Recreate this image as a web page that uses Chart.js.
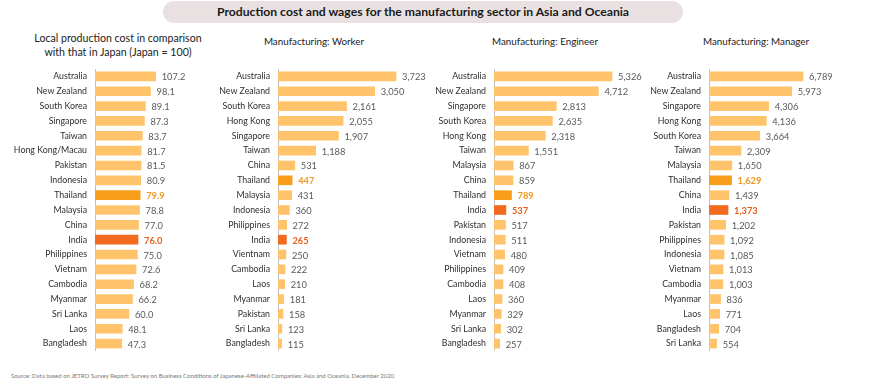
<!DOCTYPE html>
<html><head><meta charset="utf-8">
<script src="https://cdn.jsdelivr.net/npm/chart.js@4/dist/chart.umd.min.js"></script>
<style>
html,body{margin:0;padding:0;background:#fff;width:870px;height:387px;overflow:hidden;font-family:Lato,"Open Sans",sans-serif;}
#title{position:absolute;left:163px;top:1px;width:520px;height:22px;border-radius:11px;background:#E9E1E1;color:#1a1a1a;font-weight:bold;font-size:12.2px;line-height:22px;text-align:center;}
.pt{position:absolute;color:#222;font-size:9.8px;line-height:14px;text-align:center;white-space:nowrap;}
.cv{position:absolute;}
#src{position:absolute;left:11px;top:372px;font-size:6px;color:#777;white-space:nowrap;}
</style></head>
<body>
<div id="title">Production cost and wages for the manufacturing sector in Asia and Oceania</div>
<div class="pt" style="left:18px;top:31px;width:200px;font-size:10.6px;">Local production cost in comparison<br>with that in Japan (Japan = 100)</div>
<div class="pt" style="left:234px;top:34px;width:160px;">Manufacturing: Worker</div>
<div class="pt" style="left:465px;top:34px;width:160px;">Manufacturing: Engineer</div>
<div class="pt" style="left:676px;top:34px;width:160px;">Manufacturing: Manager</div>
<div class="cv" style="left:0px;top:69px;width:220px;height:282px;"><canvas id="c1"></canvas></div>
<div class="cv" style="left:212px;top:69px;width:228px;height:282px;"><canvas id="c2"></canvas></div>
<div class="cv" style="left:430px;top:69px;width:220px;height:282px;"><canvas id="c3"></canvas></div>
<div class="cv" style="left:640px;top:69px;width:230px;height:282px;"><canvas id="c4"></canvas></div>
<div id="src">Source: Data based on JETRO Survey Report: Survey on Business Conditions of Japanese-Affiliated Companies: Asia and Oceania, December 2020</div>
<script>
const costCategories = ["Australia","New Zealand","South Korea","Singapore","Taiwan","Hong Kong/Macau","Pakistan","Indonesia","Thailand","Malaysia","China","India","Philippines","Vietnam","Cambodia","Myanmar","Sri Lanka","Laos","Bangladesh"];
const costValues = [107.2,98.1,89.1,87.3,83.7,81.7,81.5,80.9,79.9,78.8,77.0,76.0,75.0,72.6,68.2,66.2,60.0,48.1,47.3];

const workerCategories = ["Australia","New Zealand","South Korea","Hong Kong","Singapore","Taiwan","China","Thailand","Malaysia","Indonesia","Philippines","India","Vientnam","Cambodia","Laos","Myanmar","Pakistan","Sri Lanka","Bangladesh"];
const workerValues = [3723,3050,2161,2055,1907,1188,531,447,431,360,272,265,250,222,210,181,158,123,115];

const engineerCategories = ["Australia","New Zealand","Singapore","South Korea","Hong Kong","Taiwan","Malaysia","China","Thailand","India","Pakistan","Indonesia","Vietnam","Philippines","Cambodia","Laos","Myanmar","Sri Lanka","Bangladesh"];
const engineerValues = [5326,4712,2813,2635,2318,1551,867,859,789,537,517,511,480,409,408,360,329,302,257];

const managerCategories = ["Australia","New Zealand","Singapore","Hong Kong","South Korea","Taiwan","Malaysia","Thailand","China","India","Pakistan","Philippines","Indonesia","Vietnam","Cambodia","Myanmar","Laos","Bangladesh","Sri Lanka"];
const managerValues = [6789,5973,4306,4136,3664,2309,1650,1629,1439,1373,1202,1092,1085,1013,1003,836,771,704,554];

const FONT = "Lato, 'Open Sans', sans-serif";
const BASE = "#FFC46B", THAI = "#F99E1A", INDIA = "#F26A1D";
const LBL = "#595959", THAI_L = "#EE9A22", INDIA_L = "#E5601C";

function colorFor(c){ return c==="Thailand"?THAI:(c==="India"?INDIA:BASE); }
function labelColorFor(c){ return c==="Thailand"?THAI_L:(c==="India"?INDIA_L:LBL); }

const valueLabels = {
  id:'valueLabels',
  afterDatasetsDraw(chart, args, opts){
    const ctx = chart.ctx;
    const meta = chart.getDatasetMeta(0);
    const cats = chart.data.labels;
    const vals = chart.data.datasets[0].data;
    ctx.save();
    ctx.textBaseline = 'middle';
    ctx.textAlign = 'left';
    meta.data.forEach((bar,i)=>{
      const hl = cats[i]==="Thailand"||cats[i]==="India";
      ctx.font = (hl?'bold ':'') + '9.3px ' + FONT;
      ctx.fillStyle = labelColorFor(cats[i]);
      ctx.fillText(opts.fmt(vals[i]), bar.x + 6, bar.y + 1);
    });
    ctx.restore();
  }
};

function make(id, cats, vals, axisW, max, fmt){
  new Chart(document.getElementById(id), {
    type:'bar',
    data:{labels:cats, datasets:[{data:vals, backgroundColor:cats.map(colorFor), barThickness:9, borderWidth:0}]},
    options:{
      indexAxis:'y', responsive:true, maintainAspectRatio:false, animation:false,
      layout:{padding:0},
      plugins:{legend:{display:false}, tooltip:{enabled:false}, valueLabels:{fmt}},
      scales:{
        x:{display:false, min:0, max:max},
        y:{
          grid:{display:false, drawTicks:false},
          border:{display:true, color:"#BFBFBF", width:1},
          ticks:{color:"#2e2e2e", padding:8, font:{family:FONT, size:8.8}, autoSkip:false},
          afterFit(s){ s.width = axisW; s.paddingTop = 0; s.paddingBottom = 0; }
        }
      }
    },
    plugins:[valueLabels]
  });
}
const fmt1 = v => v.toFixed(1);
const fmtK = v => v.toLocaleString('en-US');
make('c1', costCategories, costValues, 95, 221, fmt1);
make('c2', workerCategories, workerValues, 66, 5110, fmtK);
make('c3', engineerCategories, engineerValues, 64, 7040, fmtK);
make('c4', managerCategories, managerValues, 69, 11625, fmtK);
</script>
</body></html>
